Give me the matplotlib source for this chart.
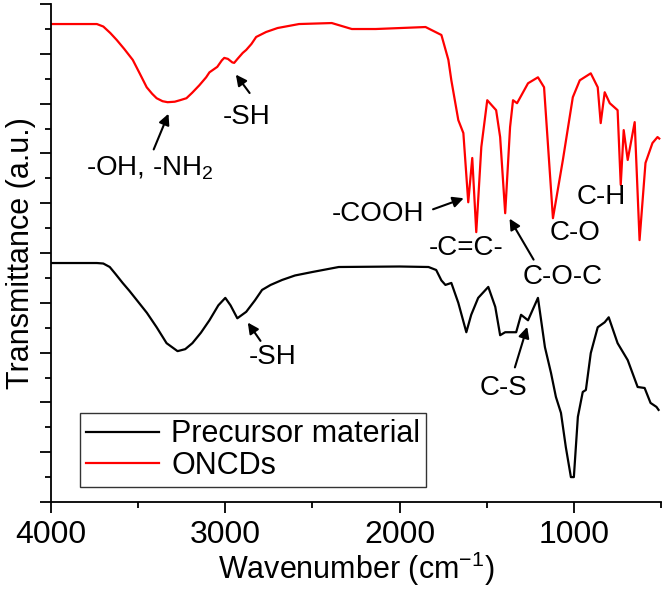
import matplotlib
matplotlib.use('Agg')
import matplotlib.pyplot as plt
from matplotlib.ticker import MultipleLocator, NullFormatter

plt.rcParams['font.family'] = ['Liberation Sans', 'DejaVu Sans']
plt.rcParams['mathtext.fontset'] = 'custom'
plt.rcParams['mathtext.rm'] = 'Liberation Sans'

# Precursor material (black)
precursorWavenumber = [4000, 3850, 3737, 3700, 3663, 3630, 3589, 3550, 3509, 3450, 3394, 3337,
	3274, 3230, 3189, 3140, 3091, 3040, 3000, 2970, 2931, 2880, 2830, 2789, 2740, 2674,
	2600, 2500, 2349, 2000, 1834, 1790, 1760, 1737, 1703, 1663, 1617,
	1589, 1549, 1491, 1451, 1423, 1394, 1331, 1303, 1263, 1206, 1166, 1131, 1103, 1074,
	1046, 1017, 1000, 977, 949, 931, 903, 863, 823, 800, 749, 691, 634, 594, 560, 526, 514]
precursorSignal = [4.8, 4.8, 4.8, 4.79, 4.72, 4.58, 4.4, 4.24, 4.06, 3.8, 3.51, 3.19,
	3.03, 3.07, 3.19, 3.4, 3.65, 3.95, 4.1, 3.95, 3.69, 3.82, 4.05, 4.26, 4.36, 4.46,
	4.55, 4.62, 4.72, 4.73, 4.72, 4.66, 4.45, 4.36, 4.4, 4.0, 3.41,
	3.76, 4.1, 4.32, 3.92, 3.35, 3.41, 3.41, 3.76, 3.65, 4.1, 3.11, 2.59, 2.11, 1.79,
	1.1, 0.5, 0.5, 1.71, 2.21, 2.25, 2.99, 3.51, 3.61, 3.71, 3.19, 2.85, 2.31, 2.29, 1.99, 1.91, 1.85]

# ONCDs (red)
oncdWavenumber = [4000, 3850, 3737, 3700, 3660, 3623, 3580, 3531, 3490, 3451, 3420, 3394,
	3360, 3331, 3290, 3260, 3223, 3190, 3149, 3110, 3091, 3046, 3020, 3006, 2985, 2960,
	2949, 2930, 2900, 2880, 2850, 2823, 2766, 2700, 2577, 2389, 2274, 2137, 1851, 1760,
	1720, 1703, 1663, 1634, 1606, 1583, 1560, 1531, 1497, 1446, 1423, 1394, 1366, 1349,
	1326, 1263, 1206, 1171, 1120, 1063, 1006, 966, 903, 863, 846, 823, 794, 749, 731,
	714, 691, 651, 623, 589, 549, 520, 510]
oncdSignal = [9.6, 9.6, 9.6, 9.55, 9.42, 9.28, 9.1, 8.88, 8.6, 8.33, 8.2, 8.11,
	8.05, 8.03, 8.04, 8.07, 8.11, 8.22, 8.37, 8.53, 8.63, 8.74, 8.87, 8.92, 8.9, 8.83,
	8.82, 8.9, 9.02, 9.08, 9.2, 9.34, 9.44, 9.52, 9.6, 9.62, 9.5, 9.5, 9.54, 9.38,
	8.88, 8.47, 7.67, 7.41, 6.02, 6.91, 5.42, 7.13, 8.07, 7.87, 7.33, 5.8, 7.53, 8.07,
	8.01, 8.41, 8.53, 8.33, 5.7, 6.87, 8.13, 8.47, 8.61, 8.33, 7.61, 8.23, 8.01, 7.87, 6.37,
	7.47, 6.87, 7.63, 5.26, 6.81, 7.21, 7.33, 7.3]

# annotations: text, text position, arrow tail, arrow head (None = no arrow)
annotations = [
	('-OH, -NH$_2$', (3434, 6.71), (3417, 7.03), (3320, 7.85)),
	('-SH', (2880, 7.73), (2851, 8.17), (2949, 8.63)),
	('-SH', (2731, 2.91), (2789, 3.19), (2880, 3.65)),
	('-COOH', (2126, 5.78), (1823, 5.86), (1617, 6.12)),
	('-C=C-', (1617, 5.1), None, None),
	('C-O-C', (1063, 4.52), (1223, 4.82), (1377, 5.74)),
	('C-O', (994, 5.4), None, None),
	('C-H', (840, 6.12), None, None),
	('C-S', (1406, 2.29), (1343, 2.65), (1263, 3.57)),
]

fig = plt.figure(figsize=(6.67, 5.89), dpi=100)
graph = fig.add_axes([0.0765, 0.1477, 0.9145, 0.8453])

graph.plot(precursorWavenumber, precursorSignal, color='black', lw=1.6, label='Precursor material')
graph.plot(oncdWavenumber, oncdSignal, color='red', lw=1.6, label='ONCDs')

for text, pos, tail, head in annotations:
	graph.text(pos[0], pos[1], text, fontsize=20, ha='center', va='center')
	if tail is not None:
		graph.annotate('', xy=head, xytext=tail,
			arrowprops=dict(arrowstyle='-|>', color='black', lw=1.5, mutation_scale=16))

graph.set_xlim(4000, 500)
graph.set_ylim(0, 10)
graph.xaxis.set_major_locator(MultipleLocator(1000))
graph.xaxis.set_minor_locator(MultipleLocator(500))
graph.yaxis.set_major_locator(MultipleLocator(1))
graph.yaxis.set_minor_locator(MultipleLocator(0.5))
graph.yaxis.set_major_formatter(NullFormatter())

for side in ('top', 'right'):
	graph.spines[side].set_visible(False)
for side in ('left', 'bottom'):
	graph.spines[side].set_linewidth(1.3)

graph.tick_params(which='major', length=8, width=1.3, labelsize=23, pad=5)
graph.tick_params(which='minor', length=4.5, width=1.3)

graph.set_xlabel('Wavenumber (cm$^{-1}$)', fontsize=22, labelpad=0)
graph.set_ylabel('Transmittance (a.u.)', fontsize=22, labelpad=-2)

leg = graph.legend(loc='lower left', bbox_to_anchor=(0.047, 0.03), fontsize=22,
	frameon=True, fancybox=False, edgecolor='black', handlelength=2.4,
	borderpad=0.2, labelspacing=0.05, handletextpad=0.4, borderaxespad=0)
leg.get_frame().set_linewidth(1.0)

plt.savefig('out.png', dpi=100)
